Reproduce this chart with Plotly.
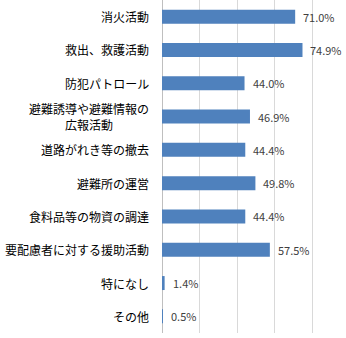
import plotly.graph_objects as go

categories = ["消火活動", "救出、救護活動", "防犯パトロール", "避難誘導や避難情報の<br>広報活動",
              "道路がれき等の撤去", "避難所の運営", "食料品等の物資の調達",
              "要配慮者に対する援助活動", "特になし", "その他"]
values = [71.0, 74.9, 44.0, 46.9, 44.4, 49.8, 44.4, 57.5, 1.4, 0.5]
grid_ticks = [0, 20, 40, 60, 80]

fig = go.Figure()
fig.add_trace(go.Bar(
    x=values, y=categories, orientation="h",
    marker=dict(color="#4F81BD", line=dict(width=0)),
    width=0.42, hoverinfo="skip",
))

font = "Noto Sans CJK JP, sans-serif"
for c, v in zip(categories, values):
    fig.add_annotation(x=0, y=c, xref="x", yref="y", text=c, showarrow=False,
                       xanchor="right", align="center", xshift=-11,
                       font=dict(family=font, size=12, color="#000000"))
    fig.add_annotation(x=v, y=c, xref="x", yref="y", text=f"{v:.1f}%", showarrow=False,
                       xanchor="left", xshift=6,
                       font=dict(family=font, size=11, color="#404040"))

fig.update_layout(
    width=346, height=338,
    margin=dict(l=162, r=0, t=0, b=5),
    plot_bgcolor="white", paper_bgcolor="white",
    showlegend=False,
    xaxis=dict(range=[0, 98.1], tickvals=grid_ticks, showticklabels=False,
               showgrid=True, gridcolor="#d9d9d9", gridwidth=1,
               zeroline=True, zerolinecolor="#bfbfbf", zerolinewidth=1, fixedrange=True),
    yaxis=dict(autorange="reversed", showticklabels=False, showgrid=False,
               zeroline=False, fixedrange=True),
)

fig.write_html("out.html")
